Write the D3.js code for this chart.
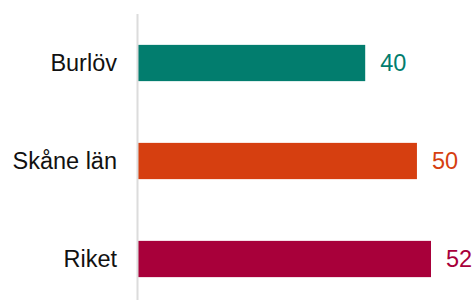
<!DOCTYPE html>
<html>
<head>
<meta charset="utf-8">
<script src="https://cdn.jsdelivr.net/npm/d3@7"></script>
<style>
  body { margin: 0; background: #fff; }
  svg { display: block; font-family: "Liberation Sans", Arial, sans-serif; }
</style>
</head>
<body>
<svg width="475" height="300"></svg>
<script>
const categories = ['Burlöv', 'Skåne län', 'Riket'];
const values = [40.4, 49.6, 52.1];
const colors = ['#027d6e', '#d63f10', '#a8003a'];

const svg = d3.select('svg');
const width = +svg.attr('width');
const height = +svg.attr('height');
const margin = {top: 14, left: 138};

const x = d3.scaleLinear()
    .domain([0, 52.1])
    .range([margin.left, margin.left + 293]);

const y = d3.scaleBand()
    .domain(categories)
    .range([margin.top, margin.top + 294])
    .paddingInner(0.63)
    .paddingOuter(0.315);

const fmt = d3.format('.0f');

// bars
svg.selectAll('.bar')
    .data(values)
  .enter().append('rect')
    .attr('class', 'bar')
    .attr('x', x(0))
    .attr('y', (d, i) => y(categories[i]))
    .attr('width', d => x(d) - x(0))
    .attr('height', y.bandwidth())
    .attr('fill', (d, i) => colors[i]);

// axis line
svg.append('line')
    .attr('x1', x(0) - 0.5)
    .attr('x2', x(0) - 0.5)
    .attr('y1', margin.top)
    .attr('y2', height)
    .attr('stroke', '#dcdcdc')
    .attr('stroke-width', 2);

// category labels
svg.selectAll('.cat')
    .data(categories)
  .enter().append('text')
    .attr('class', 'cat')
    .attr('x', x(0) - 21)
    .attr('y', d => y(d) + y.bandwidth() / 2)
    .attr('dy', '0.35em')
    .attr('text-anchor', 'end')
    .style('font-size', '23.5px')
    .attr('fill', '#111')
    .text(d => d);

// value labels
svg.selectAll('.val')
    .data(values)
  .enter().append('text')
    .attr('class', 'val')
    .attr('x', d => x(d) + 15)
    .attr('y', (d, i) => y(categories[i]) + y.bandwidth() / 2)
    .attr('dy', '0.35em')
    .style('font-size', '23.5px')
    .attr('fill', (d, i) => colors[i])
    .text(d => fmt(d));
</script>
</body>
</html>
